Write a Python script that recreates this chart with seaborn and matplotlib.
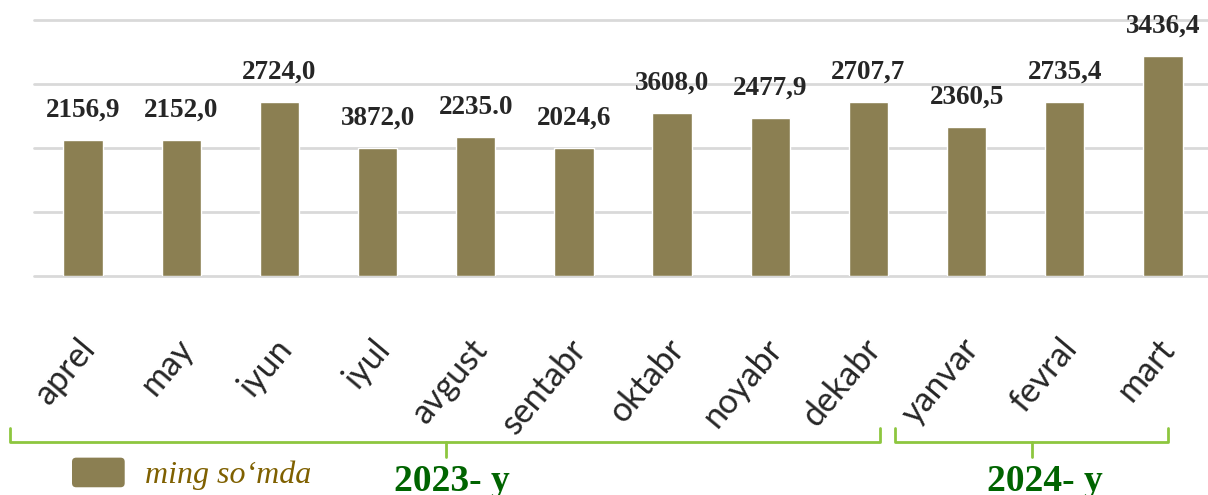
import matplotlib
matplotlib.use("Agg")
import matplotlib.pyplot as plt
import matplotlib.transforms as mtransforms
import matplotlib.patches as mpatches
from matplotlib.legend_handler import HandlerPatch
from matplotlib.lines import Line2D
import seaborn as sns
import pandas as pd

# ---- data ----
months = ["aprel", "may", "iyun", "iyul", "avgust", "sentabr",
          "oktabr", "noyabr", "dekabr", "yanvar", "fevral", "mart"]
bar_values = [2125, 2125, 2720, 2000, 2170, 2000,
              2545, 2470, 2712, 2330, 2718, 3436]
value_labels = ["2156,9", "2152,0", "2724,0", "3872,0", "2235.0", "2024,6",
                "3608,0", "2477,9", "2707,7", "2360,5", "2735,4", "3436,4"]
year_groups = ["2023- y", "2024- y"]
legend_label = "ming so\u2018mda"

BAR_COLOR = "#8B7F52"
GRID_COLOR = "#D9D9D9"
BRACKET_COLOR = "#8DC63F"
YEAR_COLOR = "#006400"
LEGEND_TEXT_COLOR = "#7F6000"
TEXT_DARK = "#262626"

sns.set_theme(style="white")
plt.rcParams["font.family"] = ["DejaVu Sans"]

W, H = 1208, 495
fig = plt.figure(figsize=(W / 100, H / 100), dpi=100)
ax = fig.add_axes([34 / W, 1 - 276 / H, 1178 / W, 276 / H])

df = pd.DataFrame({"month": months, "value": bar_values})
sns.barplot(data=df, x="month", y="value", color=BAR_COLOR, width=0.4,
            saturation=1, ax=ax, zorder=3)

ax.set_xlim(-0.5, 11.5)
ax.set_ylim(0, 4312)
ax.set_yticks([0, 1000, 2000, 3000, 4000])
ax.set_yticklabels([])
ax.tick_params(axis="y", length=0)
ax.yaxis.grid(True, color=GRID_COLOR, linewidth=2.0, zorder=0)
for gl in ax.yaxis.get_gridlines():
    gl.set_clip_on(False)
ax.set_axisbelow(True)
for s in ax.spines.values():
    s.set_visible(False)
ax.set_xlabel("")
ax.set_ylabel("")

# value labels
for i, (v, lab) in enumerate(zip(bar_values, value_labels)):
    ax.annotate(lab, xy=(i, v), xytext=(0, 21.5), textcoords="offset points",
                ha="center", va="center", fontsize=19.5, fontweight="bold",
                family="Liberation Serif", color=TEXT_DARK)

# month tick labels
ax.set_xticks(range(len(months)))
ax.set_xticklabels(months)
ax.tick_params(axis="x", length=0, pad=41)
offset = mtransforms.ScaledTranslation(-6 / 100, 0, fig.dpi_scale_trans)
for lbl in ax.get_xticklabels():
    lbl.set_rotation(50)
    lbl.set_ha("right")
    lbl.set_va("top")
    lbl.set_rotation_mode("anchor")
    lbl.set_fontsize(24.5)
    lbl.set_family("Lato")
    lbl.set_color(TEXT_DARK)
    lbl.set_transform(lbl.get_transform() + offset)


def fx(px):
    return px / W


def fy(py):
    return 1 - py / H


def bracket(x0, x1, xm, y=442, up=428, down=457):
    xs = [fx(x0), fx(x0), fx(x1), fx(x1)]
    ys = [fy(up), fy(y), fy(y), fy(up)]
    fig.add_artist(Line2D(xs, ys, transform=fig.transFigure, color=BRACKET_COLOR,
                          linewidth=2.0, solid_joinstyle="round"))
    fig.add_artist(Line2D([fx(xm), fx(xm)], [fy(y), fy(down)], transform=fig.transFigure,
                          color=BRACKET_COLOR, linewidth=2.0))


bracket(10, 880, 446)
bracket(895, 1168, 1032)

fig.text(fx(452), fy(491), year_groups[0], ha="center", va="baseline",
         fontsize=27, fontweight="bold", family="Liberation Serif", color=YEAR_COLOR)
fig.text(fx(1045), fy(491), year_groups[1], ha="center", va="baseline",
         fontsize=27, fontweight="bold", family="Liberation Serif", color=YEAR_COLOR)


# legend with rounded swatch
def rounded_patch(legend, orig_handle, xdescent, ydescent, width, height, fontsize):
    return mpatches.FancyBboxPatch((-xdescent, -ydescent), width, height,
                                   boxstyle="round,pad=0,rounding_size=3")


proxy = mpatches.Patch(facecolor=BAR_COLOR, edgecolor="none", label=legend_label)
leg = ax.legend(handles=[proxy], loc="center left", bbox_to_anchor=(fx(72), fy(474)),
                bbox_transform=fig.transFigure, frameon=False,
                borderpad=0, borderaxespad=0, handlelength=1.65, handleheight=1.05,
                handletextpad=0.62,
                handler_map={mpatches.Patch: HandlerPatch(patch_func=rounded_patch)},
                prop={"family": "Liberation Serif", "style": "italic", "size": 23})
for t in leg.get_texts():
    t.set_color(LEGEND_TEXT_COLOR)

fig.savefig("out.png", dpi=100)
